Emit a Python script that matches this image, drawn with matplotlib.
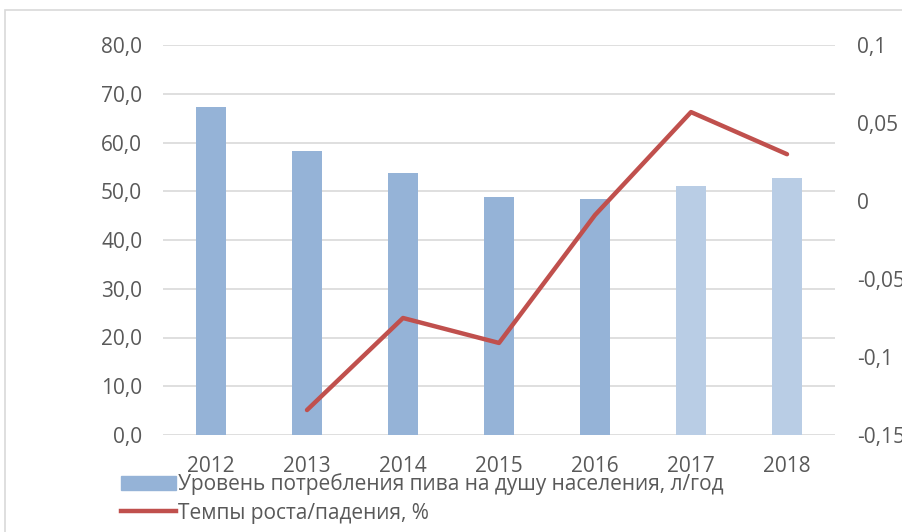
import numpy as np
import matplotlib
matplotlib.use("Agg")
import matplotlib.pyplot as plt
import matplotlib.patches as mpatches
from matplotlib.lines import Line2D
from matplotlib.ticker import FuncFormatter

plt.rcParams['font.family'] = ['Open Sans', 'DejaVu Sans']

years = ["2012", "2013", "2014", "2015", "2016", "2017", "2018"]
consumption = [67.3, 58.3, 53.8, 48.8, 48.5, 51.1, 52.7]
growth = [None, -0.134, -0.075, -0.091, -0.009, 0.057, 0.030]
bar_label = "Уровень потребления пива на душу населения, л/год"
line_label = "Темпы роста/падения, %"

TXT = "#595959"
BAR = "#95B3D7"
BAR_LIGHT = "#B9CDE5"
RED = "#C0504D"

fig = plt.figure(figsize=(9.02, 5.32), dpi=100)
ax = fig.add_axes([163 / 902, 1 - 435 / 532, (835 - 163) / 902, 390 / 532])
ax2 = ax.twinx()

x = np.arange(len(years))
colors = [BAR] * 5 + [BAR_LIGHT] * 2
ax.bar(x, consumption, width=0.31, color=colors, zorder=2)
ax.set_ylim(0, 80)
ax.set_yticks(np.arange(0, 81, 10))
ax.yaxis.set_major_formatter(FuncFormatter(lambda v, p: f"{v:.1f}".replace(".", ",")))
ax.set_xlim(-0.5, len(years) - 0.5)
ax.set_xticks(x)
ax.set_xticklabels(years)
ax.grid(axis="y", color="#D9D9D9", linewidth=1.2, zorder=0)
ax.set_axisbelow(True)
for s in ax.spines.values():
    s.set_visible(False)
for s in ax2.spines.values():
    s.set_visible(False)
ax.tick_params(axis="both", length=0, labelsize=15, colors=TXT)
ax.tick_params(axis="y", pad=15)
ax.tick_params(axis="x", pad=15)

gx = [i for i, g in enumerate(growth) if g is not None]
gy = [g for g in growth if g is not None]
ax2.plot(gx, gy, color=RED, linewidth=3.2, solid_capstyle="round", zorder=3)
ax2.set_ylim(-0.15, 0.1)
ax2.set_yticks([0.1, 0.05, 0, -0.05, -0.1, -0.15])
ax2.set_yticklabels(["0,1", "0,05", "0", "-0,05", "-0,1", "-0,15"])
ax2.tick_params(axis="y", length=0, labelsize=15, colors=TXT, pad=16)

# outer chart frame
fig.add_artist(mpatches.Rectangle((5 / 902, -0.1), 1.2, 1 - 10 / 532 + 0.1,
                                  transform=fig.transFigure, fill=False,
                                  edgecolor="#D9D9D9", linewidth=1.2))

handles = [mpatches.Patch(color=BAR), Line2D([0], [0], color=RED, linewidth=3.2)]
fig.legend(handles, [bar_label, line_label], loc="upper left",
           bbox_to_anchor=(113 / 902, 1 - 465 / 532), frameon=False,
           fontsize=15, labelcolor=TXT, handlelength=2.6, handletextpad=0.1,
           labelspacing=0.35, borderaxespad=0)

fig.savefig("out.png", dpi=100)
